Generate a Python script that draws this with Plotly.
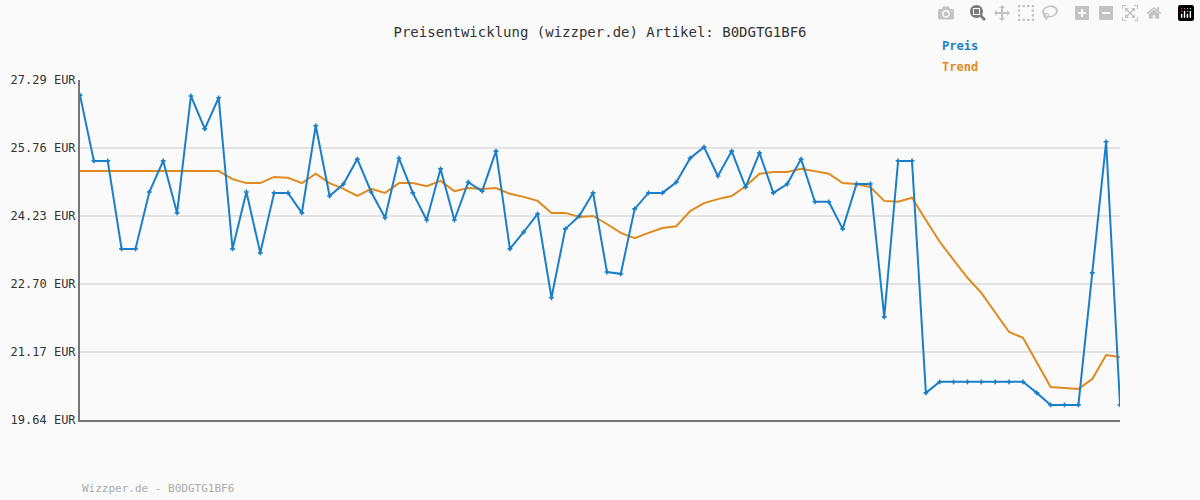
import plotly.graph_objects as go

preis = [26.95, 25.47, 25.47, 23.49, 23.49, 24.77, 25.47, 24.30, 26.93, 26.19,
         26.89, 23.49, 24.77, 23.40, 24.75, 24.75, 24.30, 26.26, 24.68, 24.95,
         25.51, 24.77, 24.19, 25.53, 24.75, 24.14, 25.29, 24.14, 24.99, 24.79,
         25.69, 23.49, 23.87, 24.28, 22.39, 23.94, 24.23, 24.75, 22.97, 22.93,
         24.39, 24.75, 24.75, 24.99, 25.53, 25.78, 25.13, 25.69, 24.88, 25.65,
         24.75, 24.95, 25.51, 24.55, 24.55, 23.94, 24.95, 24.95, 21.96, 25.47,
         25.47, 20.25, 20.50, 20.50, 20.50, 20.50, 20.50, 20.50, 20.50, 20.25,
         19.98, 19.98, 19.98, 22.95, 25.90, 19.98]
trend = [25.24] * 11 + [
    25.06, 24.97, 24.97, 25.11, 25.09, 24.97, 25.18, 24.97, 24.84, 24.68,
    24.84, 24.75, 24.97, 24.97, 24.90, 25.02, 24.79, 24.86, 24.84, 24.86,
    24.73, 24.66, 24.57, 24.30, 24.30, 24.21, 24.23, 24.05, 23.85, 23.73,
    23.85, 23.96, 24.00, 24.34, 24.52, 24.61, 24.68, 24.90, 25.18, 25.22,
    25.22, 25.29, 25.24, 25.18, 24.97, 24.95, 24.88, 24.57, 24.55, 24.64,
    24.14, 23.65, 23.24, 22.84, 22.50, 22.05, 21.62, 21.49, 20.92, 20.38,
    20.36, 20.34, 20.56, 21.10, 21.06]
tick_vals = [19.64, 21.17, 22.70, 24.23, 25.76, 27.29]
tick_text = [f"{v:.2f} EUR" for v in tick_vals]
x = list(range(len(preis)))

blue = "#1a7fc8"
orange = "#e08a1e"
mono = "DejaVu Sans Mono, Courier New, monospace"

W, H, L, T, B, R = 1200, 500, 80, 80, 80, 80
pw, ph = W - L - R, H - T - B

fig = go.Figure()
fig.add_trace(go.Scatter(x=x, y=trend, mode="lines", line=dict(color=orange, width=2),
                         hoverinfo="skip"))
fig.add_trace(go.Scatter(x=x, y=preis, mode="lines+markers", line=dict(color=blue, width=2),
                         marker=dict(symbol="cross", size=4, color=blue)))

# text labels at pixel positions (x, y from top-left)
labels = [("<b>Preis</b>", 940, 46, blue, 12),
          ("<b>Trend</b>", 940, 67, orange, 12),
          ("Wizzper.de - B0DGTG1BF6", 80, 488, "#aaa", 11)]
anns = [dict(text=t, x=(px - L) / pw, y=(H - B - py) / ph,
             xref="paper", yref="paper", xanchor="left", yanchor="middle",
             showarrow=False, font=dict(family=mono, size=s, color=c))
        for t, px, py, c, s in labels]

fig.update_layout(
    width=W, height=H, showlegend=False,
    paper_bgcolor="#fafafa", plot_bgcolor="#fafafa",
    margin=dict(l=L, r=R, t=T, b=B),
    font=dict(family=mono, size=12, color="#333"),
    title=dict(text="Preisentwicklung (wizzper.de) Artikel: B0DGTG1BF6",
               x=0.5, y=0.945, xanchor="center", font=dict(family=mono, size=14, color="#333")),
    xaxis=dict(range=[0, 75], showticklabels=False, showgrid=False, zeroline=False,
               showline=True, linecolor="#777", linewidth=2),
    yaxis=dict(range=[19.64, 27.29], tickvals=tick_vals, ticktext=tick_text,
               showgrid=True, gridcolor="#e3e3e3", gridwidth=2, zeroline=False,
               showline=True, linecolor="#777", linewidth=2,
               tickfont=dict(family=mono, size=12, color="#333")),
    annotations=anns,
)

fig.write_html("out.html", post_script="document.body.style.margin='0';")
